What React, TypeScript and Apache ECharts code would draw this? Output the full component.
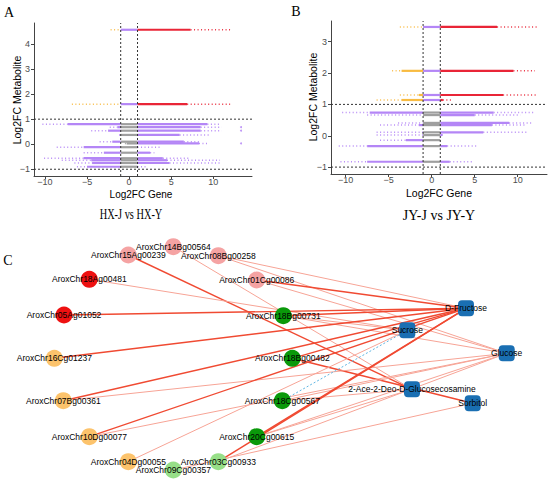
import React, { useEffect, useRef } from "react";
import * as echarts from "echarts";

const FONT = "'Liberation Sans', Arial, Helvetica, sans-serif";
const SERIF = "'Liberation Serif', 'Times New Roman', serif";

// ---------- Panel A: HX-J vs HX-Y (one row per metabolite) ----------
const aMetab = [4.57, 1.6, 0.8, 0.68, 0.54, 0.37, 0.1, 0.03, -0.12, -0.34, -0.56, -0.64, -0.75, -0.9];
const aSparseLo = [-2.2, -6.8, -10.3, -2.3, -4.5, -1.2, -3.5, -0.5, -8.6, -5.4, -10.1, -8.0, -6.5, -6.2];
const aDenseLo = [-1.0, -1.0, -7.3, -1.4, -2.5, -1.0, -2.0, -0.3, -5.4, -3.0, -5.4, -4.5, -4.4, -5.0];
const aDenseHi = [7.3, 6.9, 9.3, 8.5, 8.5, 6.0, 6.5, 8.3, 1.0, 2.5, 4.0, 4.5, 4.8, 1.0];
const aSparseHi = [12.2, 12.0, 10.9, 11.0, 11.0, 9.5, 8.5, 9.5, 3.7, 3.0, 7.3, 10.8, 10.9, 2.1];
const aOutlierX = [13.3, 13.3, 13.3];
const aOutlierY = [0.68, 0.54, 0.03];
const aXRange = [-11.3, 14.6];
const aYRange = [-1.27, 4.84];
const aXTicks = [-10, -5, 0, 5, 10];
const aYTicks = [-1, 0, 1, 2, 3, 4];

// ---------- Panel B: JY-J vs JY-Y ----------
const bMetab = [3.47, 2.07, 1.3, 1.14, 0.74, 0.66, 0.41, 0.34, 0.11, 0.02, -0.14, -0.33, -0.83];
const bSparseLo = [-3.7, -4.6, -3.7, -6.4, -10.4, -7.5, -3.9, -6.0, -6.4, -6.4, -6.0, -10.8, -10.6];
const bDenseLo = [-1.0, -3.5, -1.5, -3.5, -7.2, -1.0, -1.0, -1.5, -1.0, -1.0, -3.0, -7.5, -7.5];
const bDenseHi = [7.6, 9.5, 8.3, 1.3, 7.2, 5.0, 9.0, 7.0, 6.0, 1.2, 1.0, 1.8, 2.1];
const bSparseHi = [12.2, 12.0, 12.2, 2.4, 11.8, 10.3, 11.8, 11.0, 11.0, 1.5, 1.0, 5.3, 4.9];
const bXRange = [-11.7, 13.4];
const bYRange = [-1.22, 3.66];
const bXTicks = [-10, -5, 0, 5, 10];
const bYTicks = [-1, 0, 1, 2, 3];

// ---------- Panel C: network ----------
const geneNames = [
  "AroxChr14Bg00564", "AroxChr15Ag00239", "AroxChr08Bg00258", "AroxChr18Ag00481",
  "AroxChr01Cg00086", "AroxChr05Ag01052", "AroxChr18Bg00731", "AroxChr16Cg01237",
  "AroxChr18Bg00482", "AroxChr07Bg00361", "AroxChr18Cg00567", "AroxChr10Dg00077",
  "AroxChr20Cg00615", "AroxChr04Dg00055", "AroxChr03Cg00933", "AroxChr09Cg00357",
];
const geneX = [173.3, 128.3, 218.3, 89.3, 256.7, 64, 283.3, 54.3, 292.3, 63.3, 282.3, 89.3, 256.7, 128.3, 218.3, 173.3];
const geneY = [246.7, 255, 255.7, 279.3, 280, 315, 315.7, 358.3, 358.3, 400.7, 400.7, 436.7, 436.7, 461.7, 461.7, 470];
const geneGroup = [
  "pink", "pink", "pink", "red", "pink", "red", "green", "orange",
  "green", "orange", "green", "orange", "green", "orange", "lightgreen", "lightgreen",
];
const metaboliteNames = ["D-Fructose", "Sucrose", "Glucose", "2-Ace-2-Deo-D-Glucosecosamine", "Sorbitol"];
const metaboliteX = [466, 407.3, 506.7, 412, 472.7];
const metaboliteY = [308.3, 330.3, 353.3, 389.3, 403.3];

const edgeFrom = [
  "AroxChr15Ag00239", "AroxChr14Bg00564", "AroxChr08Bg00258", "AroxChr08Bg00258",
  "AroxChr18Ag00481", "AroxChr01Cg00086", "AroxChr01Cg00086", "AroxChr05Ag01052",
  "AroxChr18Bg00731", "AroxChr18Bg00731", "AroxChr18Bg00731", "AroxChr16Cg01237",
  "AroxChr18Bg00482", "AroxChr18Bg00482", "AroxChr07Bg00361", "AroxChr07Bg00361",
  "AroxChr10Dg00077", "AroxChr10Dg00077", "AroxChr04Dg00055", "AroxChr18Cg00567",
  "AroxChr18Cg00567", "AroxChr18Cg00567", "AroxChr20Cg00615", "AroxChr20Cg00615",
  "AroxChr20Cg00615", "AroxChr03Cg00933", "AroxChr03Cg00933", "AroxChr09Cg00357",
];
const edgeTo = [
  "2-Ace-2-Deo-D-Glucosecosamine", "2-Ace-2-Deo-D-Glucosecosamine", "D-Fructose", "Glucose",
  "Sucrose", "D-Fructose", "Glucose", "D-Fructose",
  "D-Fructose", "Sucrose", "Glucose", "D-Fructose",
  "D-Fructose", "Sorbitol", "D-Fructose", "Glucose",
  "D-Fructose", "Glucose", "Sucrose", "Sucrose",
  "Glucose", "2-Ace-2-Deo-D-Glucosecosamine", "D-Fructose", "Glucose",
  "2-Ace-2-Deo-D-Glucosecosamine", "D-Fructose", "Glucose", "Sorbitol",
];
// 1 = strong positive, 0 = weak positive, -1 = negative
const edgeKind = [1, 0, 0, 0, 0, 1, 0, 1, 1, 0, 0, 1, 1, 1, 1, 0, 1, 0, 0, -1, 0, 0, 1, 0, 0, 1, 0, 0];

const GROUP_COLOR: Record<string, string> = {
  pink: "#f5a3a3",
  red: "#ee1111",
  green: "#0a990a",
  orange: "#fcc36c",
  lightgreen: "#97df88",
};
const PALETTE = ["#e8192c", "#f8b737", "#b07ff5", "#9a9a9a"]; // red, orange, purple, grey

function colorIndex(x: number, y: number) {
  if (Math.abs(y) > 1) {
    if (x > 1) return 0;
    if (x < -1) return 1;
    return 2;
  }
  return Math.abs(x) > 1 ? 2 : 3;
}

function buildSegments(ys: number[], sl: number[], dl: number[], dr: number[], sr: number[]) {
  const out: number[][] = [];
  const push = (a: number, b: number, y: number, kind: number) => {
    if (b <= a) return;
    const cuts = [a, ...[-1, 1].filter((c) => c > a && c < b), b];
    for (let k = 0; k < cuts.length - 1; k++) {
      const mid = (cuts[k] + cuts[k + 1]) / 2;
      out.push([cuts[k], cuts[k + 1], y, kind, colorIndex(mid, y)]);
    }
  };
  ys.forEach((y, i) => {
    push(sl[i], dl[i], y, 1);
    push(dl[i], dr[i], y, 0);
    push(dr[i], sr[i], y, 1);
  });
  return out;
}

const minusFmt = (v: number) => (v < 0 ? "\u2212" + Math.abs(v) : String(v));

function makeAxes(gridIndex: number, xr: number[], yr: number[], xt: number[], yt: number[]) {
  const common = {
    gridIndex,
    type: "value",
    splitLine: { show: false },
    axisLine: { show: true, onZero: false, lineStyle: { color: "#444", width: 1 } },
  };
  const x = {
    ...common,
    min: xr[0],
    max: xr[1],
    axisTick: { show: true, length: 3, customValues: xt, lineStyle: { color: "#444" } },
    axisLabel: { customValues: xt, fontSize: 9, color: "#4d4d4d", margin: 1, fontFamily: FONT, formatter: minusFmt },
  };
  const y = {
    ...common,
    min: yr[0],
    max: yr[1],
    axisTick: { show: true, length: 3, customValues: yt, lineStyle: { color: "#444" } },
    axisLabel: { customValues: yt, fontSize: 9, color: "#4d4d4d", margin: 4, fontFamily: FONT, formatter: minusFmt },
  };
  return { x, y };
}

function segSeries(idx: number, data: number[][]) {
  return {
    type: "custom",
    xAxisIndex: idx,
    yAxisIndex: idx,
    data,
    encode: { x: [0, 1], y: 2 },
    silent: true,
    z: 2,
    renderItem: (_p: any, api: any) => {
      const y = api.value(2);
      const p0 = api.coord([api.value(0), y]);
      const p1 = api.coord([api.value(1), y]);
      const kind = api.value(3);
      return {
        type: "line",
        shape: { x1: p0[0], y1: p0[1], x2: p1[0], y2: p1[1] },
        style: {
          stroke: PALETTE[api.value(4)],
          lineWidth: kind === 0 ? 2.2 : 1.5,
          lineDash: kind === 0 ? null : [1, 2.5],
          opacity: kind === 0 ? 0.95 : 0.9,
        },
      };
    },
  };
}

function refSeries(idx: number, xr: number[], yr: number[]) {
  const data = [
    [-1, yr[0], -1, yr[1]],
    [1, yr[0], 1, yr[1]],
    [xr[0], 1, xr[1], 1],
    [xr[0], -1, xr[1], -1],
  ];
  return {
    type: "custom",
    xAxisIndex: idx,
    yAxisIndex: idx,
    data,
    encode: { x: [0, 2], y: [1, 3] },
    silent: true,
    z: 5,
    renderItem: (_p: any, api: any) => {
      const p0 = api.coord([api.value(0), api.value(1)]);
      const p1 = api.coord([api.value(2), api.value(3)]);
      return {
        type: "line",
        shape: { x1: p0[0], y1: p0[1], x2: p1[0], y2: p1[1] },
        style: { stroke: "#333", lineWidth: 1, lineDash: [2, 2] },
      };
    },
  };
}

function textEl(text: string, x: number, y: number, size: number, family: string, extra: any = {}) {
  return {
    type: "text",
    x,
    y,
    silent: true,
    ...extra,
    style: {
      text,
      fontSize: size,
      fontFamily: family,
      fill: "#000",
      align: "center",
      verticalAlign: "middle",
      textAlign: "center",
      textVerticalAlign: "middle",
    },
  };
}

export default function App() {
  const ref = useRef<HTMLDivElement>(null);
  useEffect(() => {
    if (!ref.current) return;
    const chart = echarts.init(ref.current, undefined, { renderer: "svg" });
    const axA = makeAxes(0, aXRange, aYRange, aXTicks, aYTicks);
    const axB = makeAxes(1, bXRange, bYRange, bXTicks, bYTicks);

    const nodes = [
      ...geneNames.map((n, i) => ({
        name: n,
        value: [geneX[i], geneY[i]],
        symbol: "circle",
        symbolSize: 17,
        itemStyle: { color: GROUP_COLOR[geneGroup[i]] },
      })),
      ...metaboliteNames.map((n, i) => ({
        name: n,
        value: [metaboliteX[i], metaboliteY[i]],
        symbol: "roundRect",
        symbolSize: 16,
        itemStyle: { color: "#1a6fb3" },
      })),
    ];
    const links = edgeFrom.map((s, i) => ({
      source: s,
      target: edgeTo[i],
      lineStyle:
        edgeKind[i] === 1
          ? { color: "#f04a32", width: 1.4, opacity: 1 }
          : edgeKind[i] === 0
          ? { color: "#f7a496", width: 1, opacity: 1 }
          : { color: "#5fb6e3", width: 1, type: [2, 2], opacity: 1 },
    }));

    chart.setOption({
      animation: false,
      backgroundColor: "#fff",
      grid: [
        { left: 34, top: 23, width: 218, height: 153, containLabel: false, outerBoundsMode: "none" },
        { left: 331, top: 21, width: 216, height: 153, containLabel: false, outerBoundsMode: "none" },
        { left: 0, top: 0, width: 550, height: 481, containLabel: false, outerBoundsMode: "none" },
      ],
      xAxis: [
        axA.x,
        axB.x,
        { gridIndex: 2, type: "value", min: 0, max: 550, show: false },
      ],
      yAxis: [
        axA.y,
        axB.y,
        { gridIndex: 2, type: "value", min: 0, max: 481, inverse: true, show: false },
      ],
      series: [
        segSeries(0, buildSegments(aMetab, aSparseLo, aDenseLo, aDenseHi, aSparseHi)),
        {
          type: "scatter",
          xAxisIndex: 0,
          yAxisIndex: 0,
          symbolSize: 2,
          silent: true,
          itemStyle: { color: PALETTE[2] },
          data: aOutlierX.map((x, i) => [x, aOutlierY[i]]),
        },
        refSeries(0, aXRange, aYRange),
        segSeries(1, buildSegments(bMetab, bSparseLo, bDenseLo, bDenseHi, bSparseHi)),
        refSeries(1, bXRange, bYRange),
        {
          type: "graph",
          coordinateSystem: "cartesian2d",
          xAxisIndex: 2,
          yAxisIndex: 2,
          silent: true,
          z: 3,
          label: { show: true, position: "inside", fontSize: 8.5, color: "#000", fontFamily: FONT },
          lineStyle: { opacity: 1, curveness: 0 },
          emphasis: { disabled: true },
          data: nodes,
          links,
        },
      ],
      graphic: [
        textEl("A", 9, 12, 14, SERIF),
        textEl("B", 296, 11, 14, SERIF),
        textEl("C", 8, 260, 14, SERIF),
        textEl("HX-J vs HX-Y", 131, 214, 14, SERIF, { scaleX: 0.74 }),
        textEl("JY-J vs JY-Y", 439, 215, 14, SERIF),
        textEl("Log2FC Gene", 141, 194, 10, FONT),
        textEl("Log2FC Gene", 439, 193, 10.5, FONT),
        textEl("Log2FC Metabolite", 17, 100, 10.5, FONT, { rotation: Math.PI / 2 }),
        textEl("Log2FC Metabolite", 313, 97, 10.5, FONT, { rotation: Math.PI / 2 }),
      ],
    });
    return () => chart.dispose();
  }, []);
  return (
    <div
      ref={ref}
      style={{ position: "fixed", left: 0, top: 0, width: 550, height: 481, background: "#fff" }}
    />
  );
}
